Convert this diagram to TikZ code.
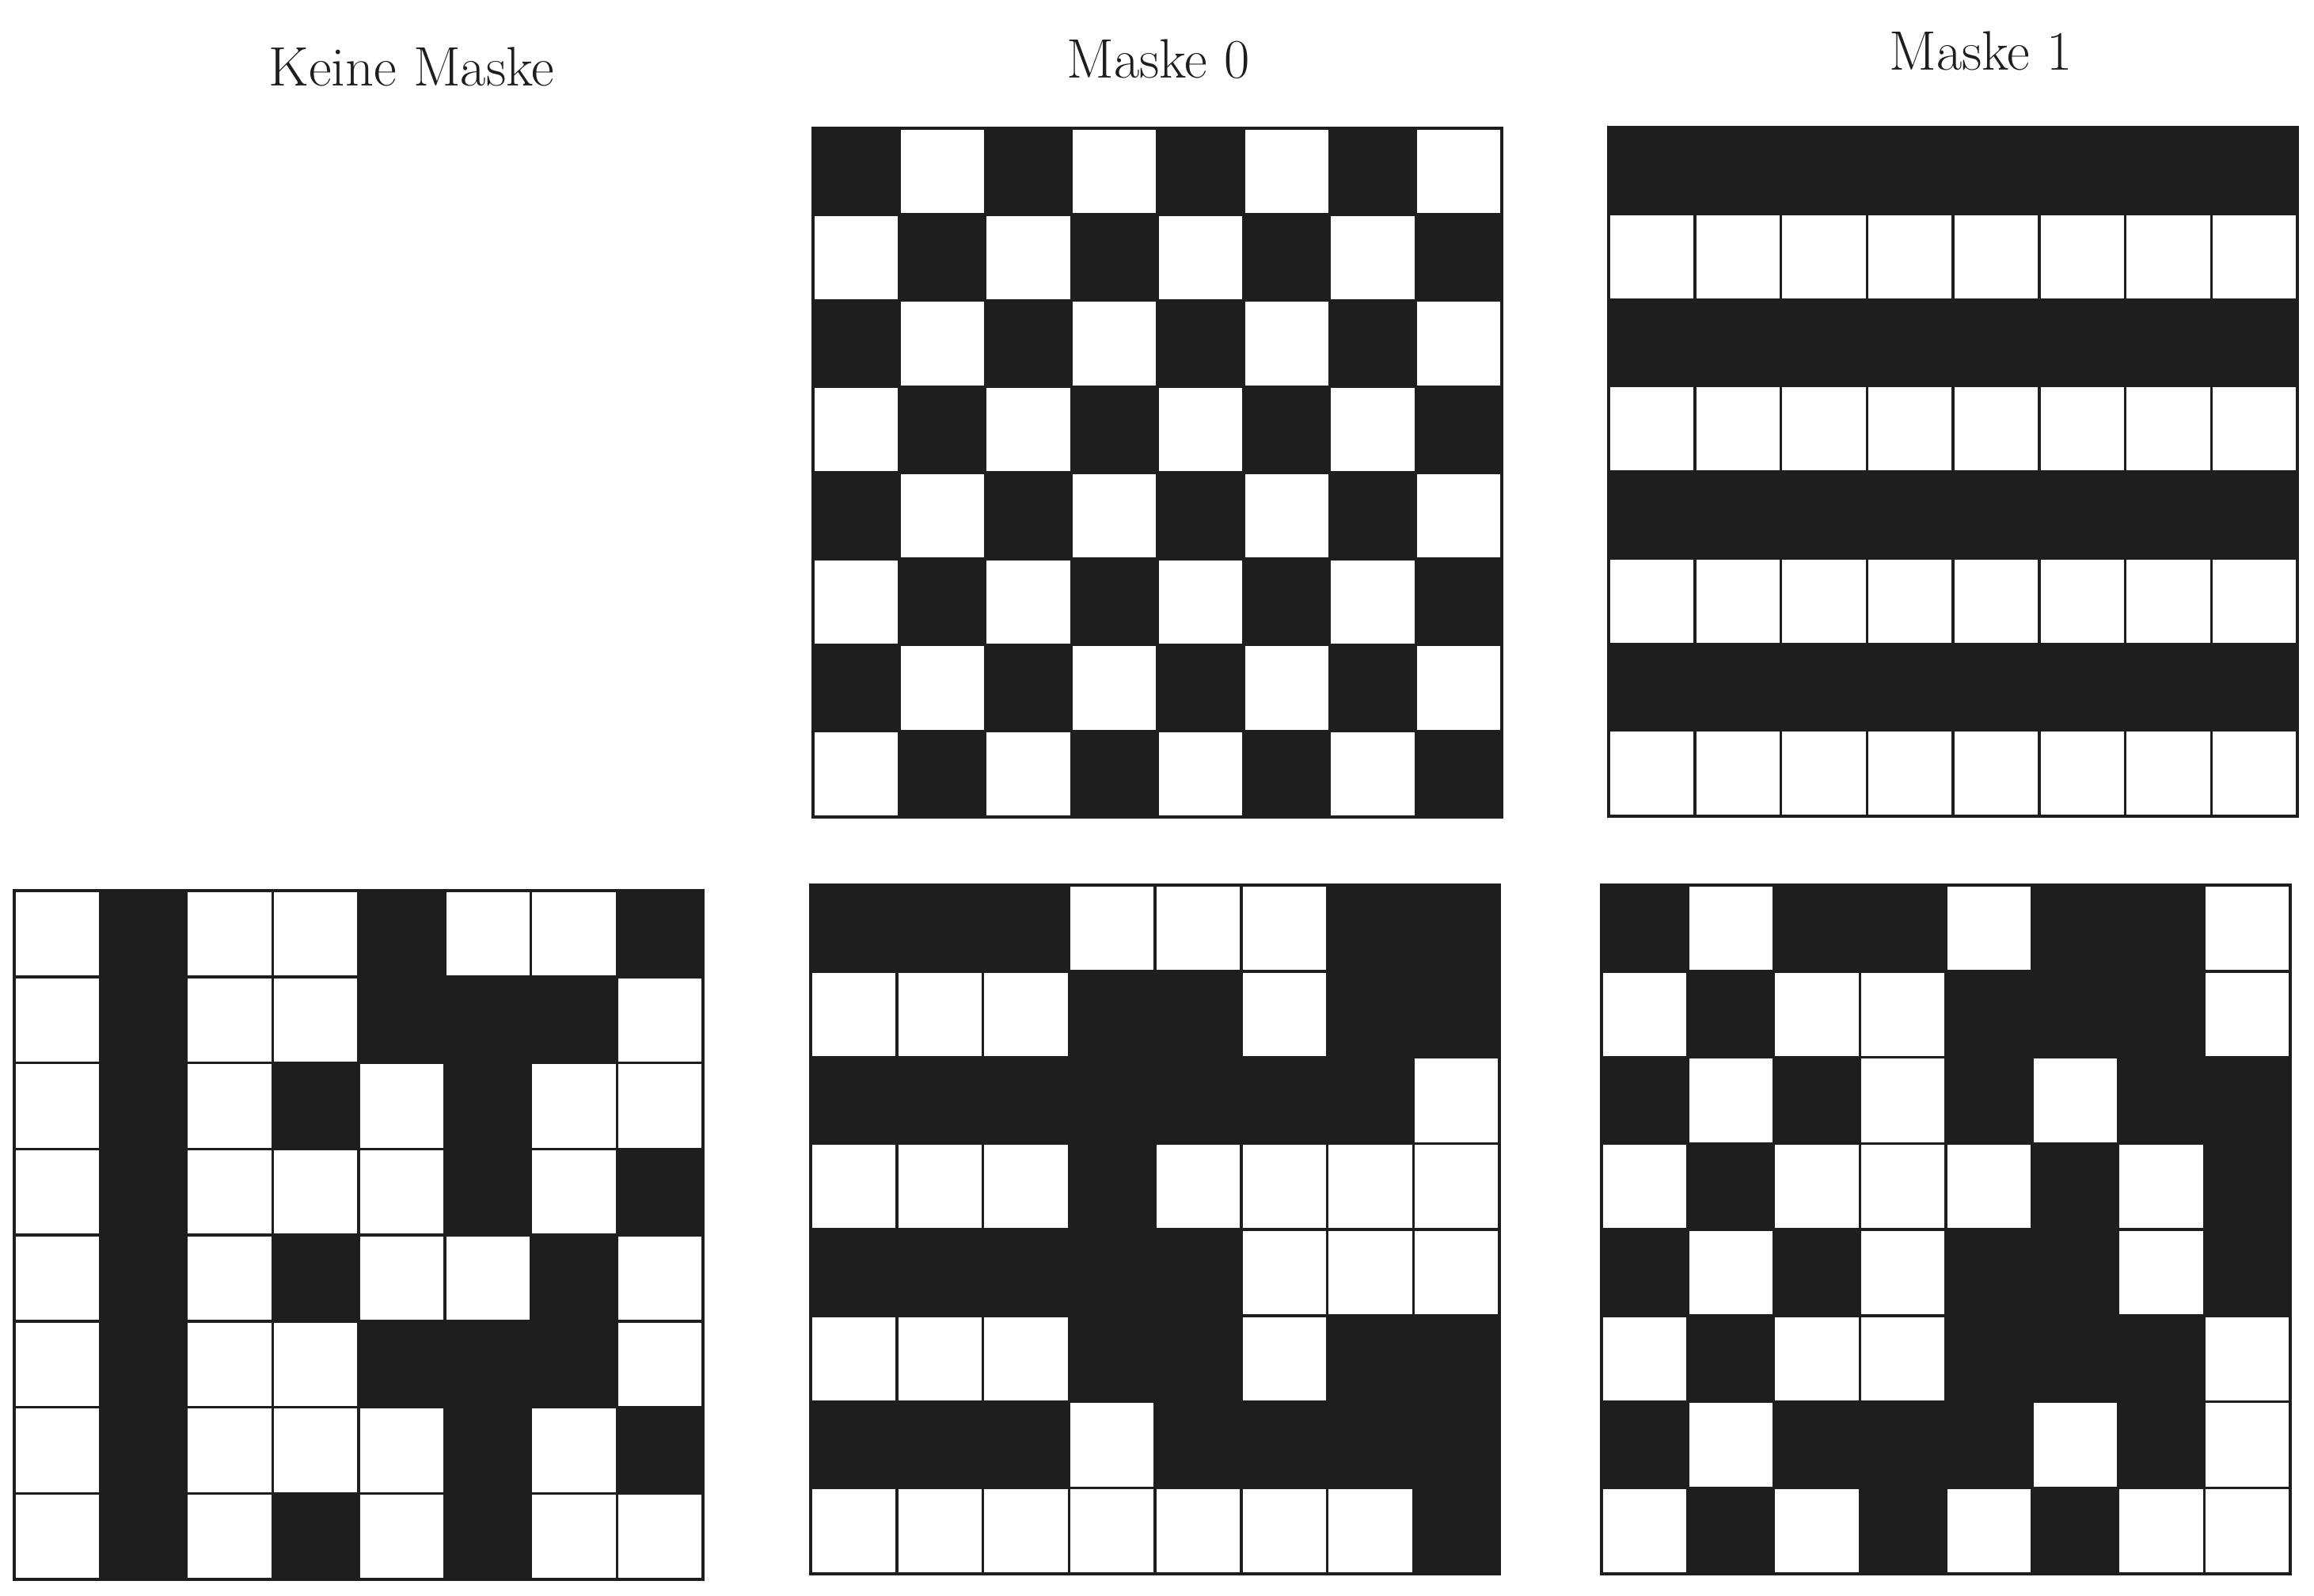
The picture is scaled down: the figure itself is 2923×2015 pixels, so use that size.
\documentclass[tikz,border=0pt]{standalone}
\usepackage{tikz}
\usetikzlibrary{positioning}

\definecolor{ink}{HTML}{1E1E1E}
\def\bits{{0,1,0,0,1,0,0,1},{0,1,0,0,1,1,1,0},{0,1,0,1,0,1,0,0},{0,1,0,0,0,1,0,1},{0,1,0,1,0,0,1,0},{0,1,0,0,1,1,1,0},{0,1,0,0,0,1,0,1},{0,1,0,1,0,1,0,0}}
% #1,#2 corner, #3 use data (0/1), #4 mask (0 none, 1 mask 0, 2 mask 1)
\newcommand{\qrgrid}[4]{%
  \foreach \row [count=\i from 0] in \bits {
    \foreach \v [count=\j from 0] in \row {
      \pgfmathtruncatemacro\b{mod(#3*\v+(#4==1)*mod(\i+\j+1,2)+(#4==2)*mod(\i+1,2),2)}
      \ifnum\b=1 \def\fc{ink}\else\def\fc{white}\fi
      \draw[cell, fill=\fc] ({#1+\j*108.75},{#2+\i*108.75}) rectangle +(108.75,108.75);
    }
  }}

\begin{document}
\begin{tikzpicture}[x=0.02cm, y=-0.02cm,
  cell/.style={draw=ink, line width=0.07cm},
  title/.style={anchor=base, text=ink, font=\fontsize{40}{48}\selectfont}]
\useasboundingbox (0,0) rectangle (2923,2015);

\node[title] (t0) at (520,108) {Keine Maske};
\node[title] (t1) at (1463,98) {Maske 0};
\node[title] (t2) at (2502,88) {Maske 1};

\qrgrid{1027}{162}{0}{1}
\qrgrid{2032}{161}{0}{2}
\qrgrid{18}{1125}{1}{0}
\qrgrid{1024}{1118}{1}{1}
\qrgrid{2023}{1118}{1}{2}
\end{tikzpicture}
\end{document}
